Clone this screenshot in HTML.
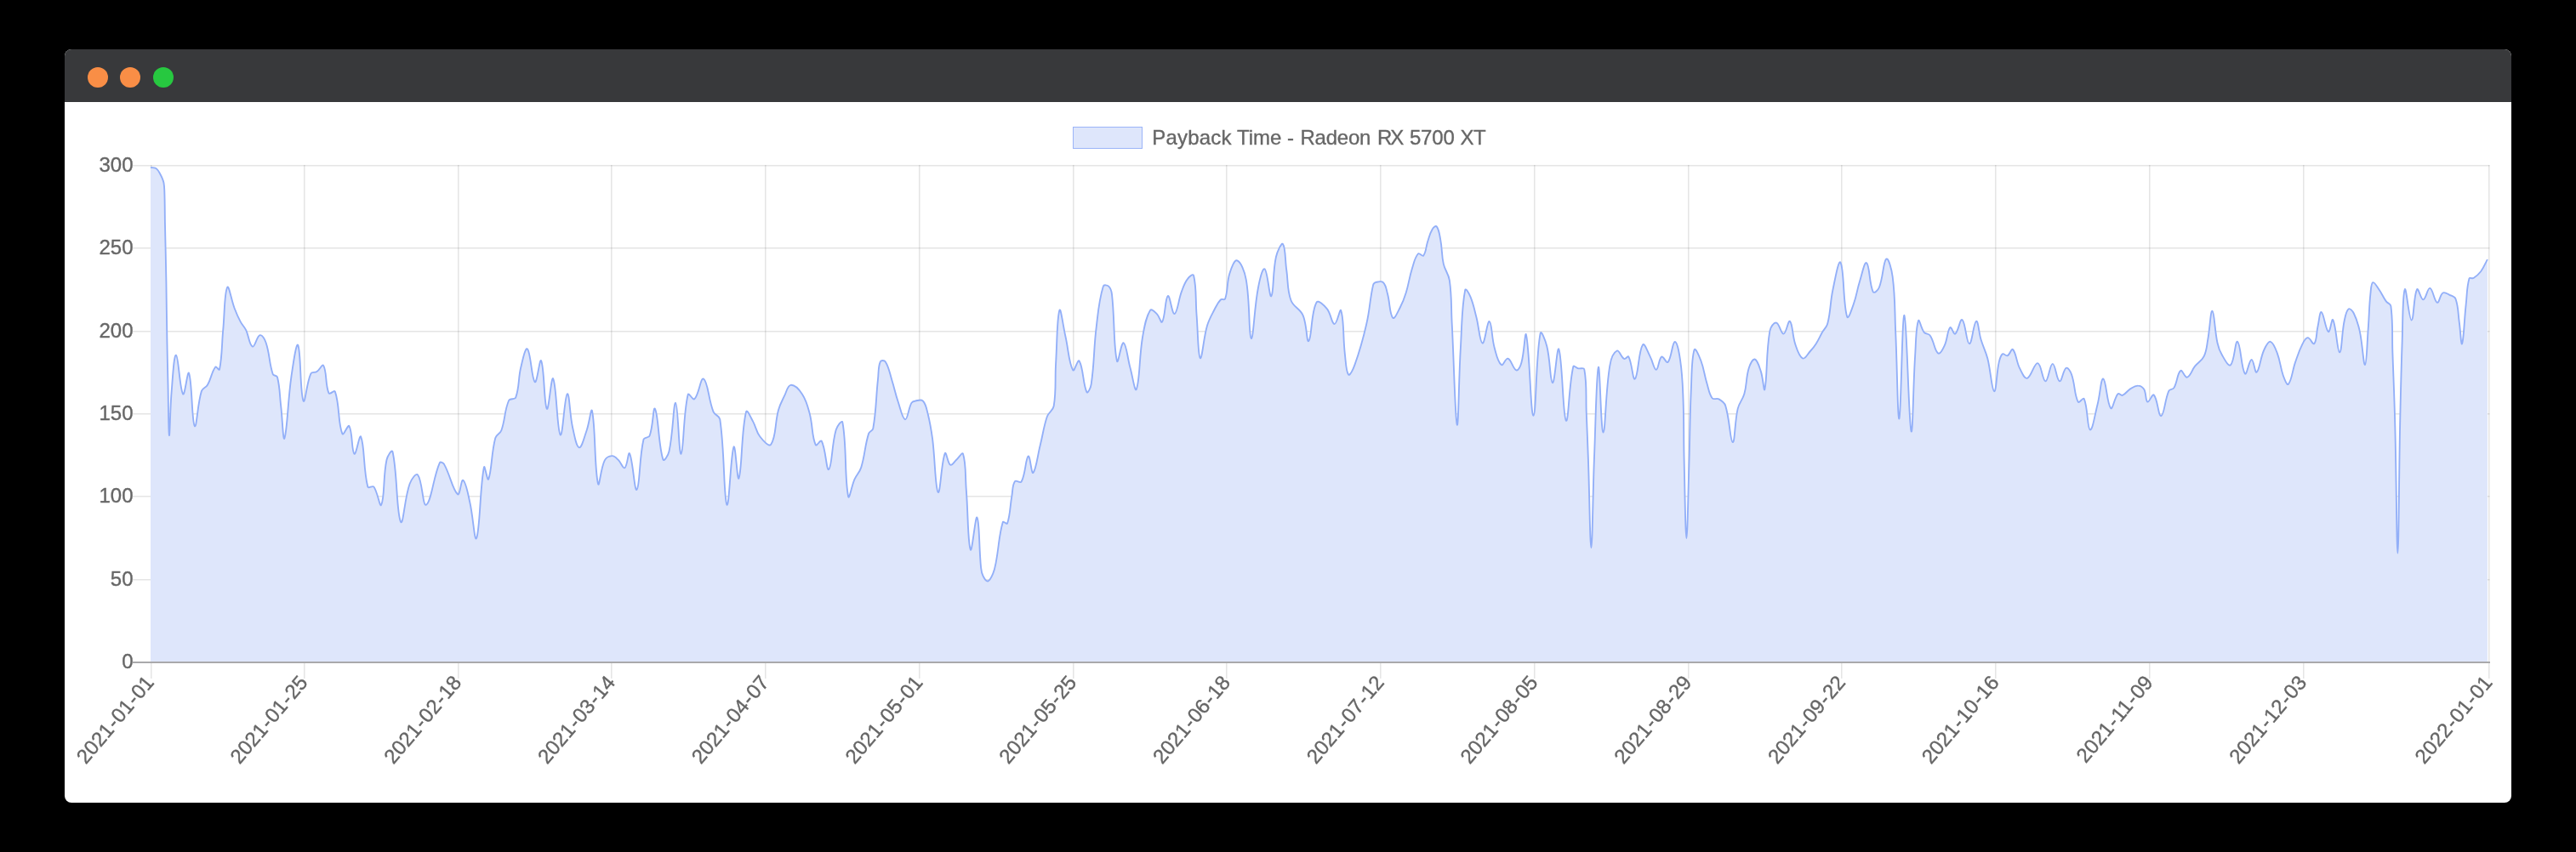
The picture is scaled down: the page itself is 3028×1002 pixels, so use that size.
<!DOCTYPE html>
<html><head><meta charset="utf-8"><title>chart</title>
<style>
html,body{margin:0;padding:0;background:#000;}
body{width:3028px;height:1002px;position:relative;overflow:hidden;font-family:"Liberation Sans",sans-serif;}
.win{position:absolute;left:76px;top:58px;width:2876px;height:886px;background:#fff;border-radius:8px;overflow:hidden;}
.bar{position:absolute;left:0;top:0;right:0;height:62px;background:#38393b;}
.dot{position:absolute;top:21px;width:24px;height:24px;border-radius:50%;}
svg text{font-family:"Liberation Sans",sans-serif;stroke:#666;stroke-width:0.35px;}
svg{will-change:transform;}
</style></head><body>
<div class="win"><div class="bar">
<div class="dot" style="left:27px;background:#f98e46"></div>
<div class="dot" style="left:65px;background:#f98e46"></div>
<div class="dot" style="left:104px;background:#27c840"></div>
</div></div>
<svg width="3028" height="1002" viewBox="0 0 3028 1002" style="position:absolute;left:0;top:0">
<rect x="156" y="194" width="2770.5" height="1" fill="rgba(0,0,0,0.10)"/>
<rect x="156" y="195" width="2770.5" height="1" fill="rgba(0,0,0,0.055)"/>
<rect x="156" y="291" width="2770.5" height="1" fill="rgba(0,0,0,0.10)"/>
<rect x="156" y="292" width="2770.5" height="1" fill="rgba(0,0,0,0.055)"/>
<rect x="156" y="389" width="2770.5" height="1" fill="rgba(0,0,0,0.10)"/>
<rect x="156" y="390" width="2770.5" height="1" fill="rgba(0,0,0,0.055)"/>
<rect x="156" y="486" width="2770.5" height="1" fill="rgba(0,0,0,0.10)"/>
<rect x="156" y="487" width="2770.5" height="1" fill="rgba(0,0,0,0.055)"/>
<rect x="156" y="583" width="2770.5" height="1" fill="rgba(0,0,0,0.10)"/>
<rect x="156" y="584" width="2770.5" height="1" fill="rgba(0,0,0,0.055)"/>
<rect x="156" y="681" width="2770.5" height="1" fill="rgba(0,0,0,0.10)"/>
<rect x="156" y="682" width="2770.5" height="1" fill="rgba(0,0,0,0.055)"/>
<rect x="177" y="194" width="1" height="604" fill="rgba(0,0,0,0.10)"/>
<rect x="178" y="194" width="1" height="604" fill="rgba(0,0,0,0.055)"/>
<rect x="357" y="194" width="1" height="604" fill="rgba(0,0,0,0.10)"/>
<rect x="358" y="194" width="1" height="604" fill="rgba(0,0,0,0.055)"/>
<rect x="538" y="194" width="1" height="604" fill="rgba(0,0,0,0.10)"/>
<rect x="539" y="194" width="1" height="604" fill="rgba(0,0,0,0.055)"/>
<rect x="718" y="194" width="1" height="604" fill="rgba(0,0,0,0.10)"/>
<rect x="719" y="194" width="1" height="604" fill="rgba(0,0,0,0.055)"/>
<rect x="899" y="194" width="1" height="604" fill="rgba(0,0,0,0.10)"/>
<rect x="900" y="194" width="1" height="604" fill="rgba(0,0,0,0.055)"/>
<rect x="1080" y="194" width="1" height="604" fill="rgba(0,0,0,0.10)"/>
<rect x="1081" y="194" width="1" height="604" fill="rgba(0,0,0,0.055)"/>
<rect x="1261" y="194" width="1" height="604" fill="rgba(0,0,0,0.10)"/>
<rect x="1262" y="194" width="1" height="604" fill="rgba(0,0,0,0.055)"/>
<rect x="1441" y="194" width="1" height="604" fill="rgba(0,0,0,0.10)"/>
<rect x="1442" y="194" width="1" height="604" fill="rgba(0,0,0,0.055)"/>
<rect x="1622" y="194" width="1" height="604" fill="rgba(0,0,0,0.10)"/>
<rect x="1623" y="194" width="1" height="604" fill="rgba(0,0,0,0.055)"/>
<rect x="1803" y="194" width="1" height="604" fill="rgba(0,0,0,0.10)"/>
<rect x="1804" y="194" width="1" height="604" fill="rgba(0,0,0,0.055)"/>
<rect x="1984" y="194" width="1" height="604" fill="rgba(0,0,0,0.10)"/>
<rect x="1985" y="194" width="1" height="604" fill="rgba(0,0,0,0.055)"/>
<rect x="2164" y="194" width="1" height="604" fill="rgba(0,0,0,0.10)"/>
<rect x="2165" y="194" width="1" height="604" fill="rgba(0,0,0,0.055)"/>
<rect x="2345" y="194" width="1" height="604" fill="rgba(0,0,0,0.10)"/>
<rect x="2346" y="194" width="1" height="604" fill="rgba(0,0,0,0.055)"/>
<rect x="2526" y="194" width="1" height="604" fill="rgba(0,0,0,0.10)"/>
<rect x="2527" y="194" width="1" height="604" fill="rgba(0,0,0,0.055)"/>
<rect x="2707" y="194" width="1" height="604" fill="rgba(0,0,0,0.10)"/>
<rect x="2708" y="194" width="1" height="604" fill="rgba(0,0,0,0.055)"/>
<rect x="2925" y="194" width="1" height="604" fill="rgba(0,0,0,0.10)"/>
<rect x="2926" y="194" width="1" height="604" fill="rgba(0,0,0,0.055)"/>
<path d="M177.0,196.8C179.2,197.2 180.5,196.9 182.6,197.7C183.9,198.2 184.5,198.9 185.4,200.0C186.8,201.7 187.2,202.8 188.3,204.7C189.3,206.5 189.8,207.5 190.6,209.4C191.5,211.6 192.1,212.8 192.5,215.1C193.1,218.6 193.2,220.4 193.3,224.0C193.8,238.6 193.7,245.9 193.9,260.4C194.5,288.6 194.9,302.7 195.4,330.8C195.8,359.0 195.9,373.1 196.4,401.3C196.8,421.9 197.0,432.2 197.5,452.8C198.0,476.5 198.0,510.5 198.9,512.0C199.7,513.3 199.9,480.6 201.7,459.9C203.1,442.9 204.4,416.9 207.0,417.6C209.8,418.3 211.2,457.9 215.1,463.4C217.2,466.4 220.5,434.4 222.1,438.7C226.0,449.4 225.3,496.0 228.8,501.1C231.2,504.4 232.0,475.5 236.9,459.9C238.1,456.2 242.0,456.2 243.9,452.8C248.5,445.0 248.6,437.6 253.1,431.7C254.2,430.2 257.6,436.4 258.0,434.5C261.3,418.6 260.5,406.1 262.3,387.2C264.1,367.5 263.7,344.3 267.2,337.9C269.0,334.5 271.9,352.8 275.6,362.5C278.1,369.0 279.4,372.3 282.7,378.4C284.8,382.4 287.0,383.8 289.0,387.9C292.7,395.5 293.0,406.2 296.8,407.6C299.6,408.7 301.8,395.3 305.6,394.2C308.2,393.5 311.2,398.8 312.6,403.0C317.3,417.1 316.1,426.1 320.7,440.0C321.5,442.3 325.4,441.2 326.0,443.5C329.2,456.2 328.6,463.9 330.2,477.5C332.0,492.7 332.8,520.3 334.4,515.5C337.7,506.2 338.3,471.4 342.5,442.3C344.7,427.6 348.3,401.8 350.3,406.0C353.9,413.5 352.6,462.6 356.6,471.5C358.7,476.0 360.2,450.7 365.4,439.4C366.6,436.9 370.0,438.6 372.5,437.0C375.9,434.8 378.9,427.5 380.2,429.9C384.5,437.6 382.1,452.4 386.5,462.3C387.6,464.6 393.1,458.1 393.9,460.6C399.5,477.2 397.1,497.2 402.4,510.2C403.7,513.4 409.0,498.5 410.5,501.1C414.6,508.0 413.1,530.7 416.5,533.8C418.6,535.8 422.5,509.6 424.2,513.7C428.9,525.1 426.9,551.5 432.3,572.5C433.0,575.0 437.9,570.5 439.4,572.5C444.2,579.0 446.3,597.5 448.2,593.7C452.4,584.8 450.1,561.2 454.5,540.8C455.5,536.3 460.7,527.7 461.5,531.3C467.3,556.9 465.9,604.0 471.1,613.7C473.9,619.1 475.5,585.9 481.6,569.0C483.5,563.8 489.0,555.7 491.1,558.5C496.7,565.6 496.7,596.0 501.0,593.7C507.0,590.4 509.2,561.5 516.8,544.4C517.7,542.5 521.0,544.3 522.1,546.1C529.5,559.1 531.9,576.2 538.0,581.3C540.7,583.7 542.0,563.3 544.3,564.8C547.8,567.1 549.9,580.1 552.3,590.7C556.2,607.4 557.8,638.5 560.1,633.0C564.4,622.1 564.1,573.0 568.9,549.5C569.7,545.3 572.9,566.8 574.2,563.6C578.3,553.0 577.3,533.7 582.3,515.0C583.4,510.7 587.8,510.4 589.3,506.2C594.1,492.8 592.7,483.4 598.1,471.0C599.4,468.0 605.1,470.5 606.2,467.5C610.7,455.0 608.9,446.1 612.2,432.3C614.3,423.3 617.5,407.9 619.9,410.4C624.1,414.7 624.8,445.8 628.7,449.2C631.3,451.3 634.4,420.2 636.1,424.2C640.0,432.9 639.4,475.7 642.8,480.8C645.0,484.1 648.0,441.0 650.2,445.3C654.3,453.2 654.8,507.3 658.7,511.5C661.5,514.5 663.6,465.2 666.8,463.2C669.4,461.7 669.6,487.1 673.1,502.7C675.3,512.3 677.3,525.5 680.8,526.3C683.9,526.9 686.7,514.4 689.6,506.2C692.8,497.3 694.8,477.9 696.0,483.3C700.2,502.9 698.6,551.4 703.0,568.9C704.5,574.7 705.9,551.0 710.8,541.4C712.5,537.9 716.1,536.3 719.6,536.1C722.4,536.0 724.2,538.4 726.6,540.7C730.1,544.0 732.2,551.4 734.4,550.2C737.5,548.5 738.4,530.3 740.0,533.3C744.0,540.6 745.7,578.7 748.5,575.9C752.3,572.1 751.2,539.0 756.5,516.8C757.3,513.7 762.5,515.4 763.6,512.5C767.9,501.1 767.7,477.0 769.9,480.8C774.1,488.1 773.9,523.6 779.4,540.4C780.5,543.6 785.5,535.4 786.5,530.8C791.4,508.8 791.5,473.3 794.2,473.8C797.1,474.4 797.9,535.5 800.6,533.7C803.7,531.5 803.1,486.7 808.7,463.9C809.4,460.9 814.5,471.2 816.4,469.2C821.8,463.9 823.5,443.3 827.0,445.6C832.4,449.3 832.6,469.6 838.6,484.4C840.3,488.6 845.7,488.6 846.3,493.2C852.0,532.3 850.6,585.8 854.4,593.5C857.1,598.8 858.9,533.6 862.5,525.6C864.5,521.2 866.7,567.9 868.5,562.5C872.4,551.4 871.3,507.1 877.0,484.4C878.0,480.4 882.4,490.8 885.1,495.6C888.8,502.4 888.6,507.3 893.2,513.2C897.0,518.2 903.8,526.2 906.2,522.7C912.5,513.8 910.6,498.2 915.0,482.3C916.9,475.3 918.9,472.1 922.0,465.7C924.7,460.4 925.6,453.3 929.5,452.8C934.0,452.3 939.2,457.9 942.9,463.4C948.1,471.3 949.2,476.8 951.7,486.3C955.5,500.8 954.1,512.6 958.7,523.2C959.8,525.6 964.6,516.4 965.8,518.7C970.8,528.0 971.4,554.3 974.2,552.1C978.1,549.1 977.5,523.3 982.7,505.6C984.0,501.2 989.7,493.1 990.4,496.8C995.5,524.4 992.6,562.3 997.1,583.8C998.2,589.1 1001.0,571.5 1004.5,563.7C1007.1,557.9 1010.4,555.7 1012.3,549.6C1017.0,534.2 1016.3,525.2 1021.1,509.9C1022.0,506.9 1025.8,507.0 1026.3,503.9C1030.2,481.3 1029.5,469.0 1032.0,445.8C1032.9,437.6 1032.1,431.7 1034.8,425.4C1035.6,423.5 1039.7,423.6 1040.8,425.4C1045.2,432.4 1045.7,438.6 1048.5,447.5C1051.6,457.3 1052.3,462.5 1055.6,472.2C1058.5,480.8 1060.7,492.9 1064.0,493.3C1067.0,493.6 1067.6,480.9 1071.4,473.9C1072.4,472.2 1074.0,471.8 1076.0,471.5C1079.4,470.9 1082.8,469.3 1084.8,471.5C1088.7,475.6 1089.1,480.8 1090.8,487.3C1093.6,498.7 1094.5,504.6 1096.1,516.2C1099.3,541.2 1099.3,575.0 1102.7,578.9C1105.3,581.7 1106.5,542.8 1110.8,533.1C1112.3,530.0 1113.9,544.9 1117.2,546.8C1119.2,548.0 1121.5,543.3 1124.2,540.8C1127.4,538.1 1131.1,531.0 1132.0,533.8C1135.7,545.1 1134.5,559.1 1135.8,576.1C1138.0,604.2 1137.5,638.1 1140.8,646.5C1142.6,651.1 1146.6,605.1 1148.5,608.5C1151.5,613.6 1150.7,644.0 1153.1,667.6C1153.5,671.6 1153.8,674.0 1155.6,677.5C1157.0,680.3 1159.2,683.9 1161.2,683.5C1163.8,682.8 1165.5,678.5 1167.2,674.6C1169.3,669.6 1169.7,666.7 1170.7,661.3C1174.3,642.5 1174.0,630.5 1178.8,614.1C1179.4,612.2 1183.5,617.3 1184.1,615.5C1187.7,604.9 1187.1,596.0 1189.4,583.1C1190.6,576.3 1189.8,570.8 1192.9,566.2C1194.3,564.1 1199.4,568.9 1200.6,566.5C1205.7,557.1 1205.4,539.2 1208.7,536.6C1210.9,535.0 1212.3,558.0 1214.4,556.0C1217.9,552.6 1219.5,536.4 1222.8,523.2C1226.2,509.9 1226.5,502.7 1230.9,489.8C1232.8,484.3 1237.7,483.1 1238.7,477.5C1241.8,458.0 1239.9,447.3 1241.1,427.2C1242.6,402.2 1242.4,373.3 1245.4,364.9C1246.9,360.6 1249.6,383.2 1252.4,395.5C1256.0,411.4 1256.3,426.6 1261.2,435.3C1262.8,438.1 1266.9,421.7 1268.6,424.4C1273.4,432.0 1273.0,452.4 1277.4,461.0C1278.6,463.4 1282.1,456.0 1282.7,451.8C1286.6,425.5 1285.4,411.6 1288.7,384.9C1291.0,365.5 1291.6,353.8 1296.8,336.7C1297.4,334.5 1301.5,335.2 1303.1,336.7C1305.6,339.0 1306.5,342.1 1307.0,346.2C1310.5,377.3 1308.7,407.0 1313.0,424.7C1314.2,429.8 1318.0,401.9 1320.7,403.2C1324.2,405.0 1325.2,420.8 1328.5,432.5C1331.3,442.6 1334.1,462.2 1335.8,457.8C1340.0,447.4 1338.9,420.2 1343.2,395.5C1345.4,383.0 1346.9,373.1 1352.0,364.9C1353.5,362.6 1357.3,366.7 1359.8,369.1C1363.0,372.2 1364.7,380.8 1366.1,378.6C1369.9,372.4 1369.5,350.2 1372.8,348.0C1375.2,346.4 1377.7,370.0 1380.6,369.1C1384.1,367.9 1385.1,353.0 1389.0,342.7C1391.3,336.6 1392.3,332.9 1396.1,327.9C1397.9,325.4 1402.5,321.5 1403.1,324.0C1406.7,338.7 1405.1,352.1 1406.6,370.8C1408.2,391.0 1408.1,418.4 1410.8,421.2C1413.0,423.3 1414.6,398.0 1418.9,383.2C1421.3,375.1 1423.8,371.3 1427.7,363.8C1430.2,359.1 1431.3,356.0 1434.8,352.5C1436.2,351.1 1439.4,353.3 1440.1,351.5C1443.7,341.0 1441.8,333.0 1445.4,321.5C1447.4,315.0 1450.9,305.2 1454.2,306.4C1458.7,308.1 1463.0,319.0 1464.7,328.6C1469.6,355.7 1467.7,395.7 1470.7,398.0C1473.3,399.9 1474.3,362.4 1478.8,339.2C1480.6,329.7 1483.9,314.7 1486.5,316.3C1490.1,318.4 1492.1,350.6 1494.3,348.3C1497.4,345.0 1495.9,320.1 1499.9,302.2C1501.4,295.6 1506.3,284.8 1508.0,287.0C1511.2,291.1 1510.5,305.6 1512.3,318.0C1514.3,332.1 1512.8,340.3 1517.5,353.2C1520.5,361.4 1528.1,362.8 1531.6,370.8C1536.4,381.9 1535.8,403.6 1538.3,401.1C1542.1,397.5 1540.9,367.3 1547.5,355.7C1549.5,352.1 1556.3,358.9 1559.8,363.1C1564.7,369.0 1565.1,380.6 1568.6,381.1C1571.7,381.5 1575.1,361.6 1576.3,365.2C1580.0,375.8 1578.5,396.1 1580.9,416.6C1582.0,426.3 1582.2,437.4 1585.1,440.6C1586.8,442.3 1590.7,434.1 1592.5,428.9C1599.2,410.2 1601.9,400.3 1606.3,380.8C1610.5,362.8 1610.0,352.8 1614.1,335.1C1614.5,333.3 1615.9,332.3 1617.6,331.9C1620.7,331.2 1624.1,330.2 1626.1,332.3C1629.4,335.7 1629.5,340.1 1631.0,345.6C1634.0,356.8 1633.4,369.6 1637.3,373.8C1639.3,376.0 1643.0,366.8 1645.8,361.5C1649.2,354.8 1650.6,351.1 1652.8,343.9C1656.2,332.8 1656.4,326.8 1659.9,315.7C1662.1,308.6 1663.0,302.9 1666.9,298.5C1668.3,296.9 1672.0,302.2 1673.2,300.6C1676.5,296.4 1676.0,290.6 1678.2,284.0C1680.1,278.3 1680.5,274.9 1683.5,269.9C1684.7,267.8 1687.6,265.0 1688.7,266.4C1691.6,270.0 1692.1,275.8 1693.3,282.3C1695.4,293.4 1694.4,299.4 1696.8,310.4C1698.6,318.4 1702.7,321.7 1703.9,329.8C1706.7,349.9 1705.6,360.4 1706.7,380.8C1709.2,428.3 1710.4,493.1 1712.7,499.5C1714.4,504.4 1714.7,445.2 1716.9,409.0C1718.5,381.8 1718.1,361.9 1722.2,341.1C1722.8,337.9 1727.0,345.4 1728.5,349.2C1732.3,358.5 1733.0,363.9 1735.6,373.8C1738.6,385.7 1739.4,402.8 1742.6,403.7C1745.4,404.5 1748.1,377.1 1750.7,378.0C1753.7,379.2 1753.3,396.9 1756.7,409.0C1759.0,417.3 1760.5,425.7 1764.8,429.1C1766.9,430.8 1769.8,420.7 1772.5,421.7C1776.8,423.2 1778.5,434.2 1782.4,435.4C1784.8,436.2 1787.3,430.7 1788.4,426.6C1791.9,414.0 1792.6,387.4 1794.0,393.9C1798.2,412.4 1799.2,489.3 1802.5,488.9C1805.8,488.6 1805.2,419.9 1810.6,392.1C1811.5,387.2 1816.7,400.7 1818.3,407.3C1822.5,424.0 1822.1,449.5 1825.0,450.2C1827.7,450.9 1830.3,405.0 1832.4,410.8C1836.7,422.8 1837.0,489.9 1840.8,494.6C1843.8,498.1 1844.0,453.5 1849.3,431.2C1849.8,429.0 1852.8,432.7 1855.3,433.3C1858.0,434.0 1861.9,431.8 1862.3,434.4C1865.7,453.1 1863.9,465.6 1864.8,486.5C1865.7,507.9 1866.1,518.6 1866.9,540.0C1868.4,581.7 1869.0,644.2 1870.4,644.2C1871.8,644.2 1872.3,581.7 1873.9,540.0C1875.7,496.8 1876.4,439.2 1878.9,431.9C1880.6,426.7 1881.9,509.0 1884.5,508.7C1887.2,508.3 1887.1,461.0 1892.3,430.1C1893.5,422.5 1896.6,414.5 1900.7,412.5C1903.4,411.3 1905.4,420.1 1909.2,422.0C1910.9,422.9 1913.5,417.9 1914.4,419.6C1918.6,427.3 1919.2,447.9 1921.8,445.6C1925.8,442.2 1925.9,412.9 1931.0,405.5C1933.1,402.5 1936.6,413.7 1939.8,419.6C1943.0,425.4 1944.1,434.7 1946.8,434.7C1949.5,434.7 1949.7,421.8 1953.2,419.6C1955.2,418.3 1958.8,427.9 1960.6,425.9C1965.0,420.8 1965.6,402.6 1968.7,402.0C1971.4,401.4 1973.7,414.4 1975.0,423.1C1977.7,441.2 1977.8,450.5 1978.5,468.9C1979.6,497.3 1978.9,511.6 1979.6,540.0C1980.5,577.2 1981.2,633.0 1982.4,633.0C1983.6,633.0 1984.4,577.2 1985.6,540.0C1986.5,508.5 1986.3,492.7 1987.7,461.3C1988.7,441.2 1988.1,422.6 1991.6,411.3C1992.7,407.8 1997.3,418.7 1999.4,424.3C2003.2,434.4 2003.2,440.3 2006.4,450.7C2008.6,457.9 2008.8,463.0 2012.7,468.3C2014.4,470.5 2017.9,467.9 2020.5,469.4C2024.1,471.4 2026.9,473.1 2028.2,477.1C2033.4,493.3 2033.7,519.3 2036.7,520.1C2039.4,520.7 2039.0,496.0 2042.7,480.6C2044.5,473.2 2048.4,470.4 2050.4,463.0C2053.6,451.4 2052.2,444.5 2055.7,433.1C2057.2,428.3 2060.2,421.9 2062.7,422.5C2065.9,423.3 2067.8,430.7 2069.8,436.6C2072.5,444.8 2073.4,462.3 2074.4,457.7C2077.6,443.3 2075.7,415.6 2080.4,389.1C2081.2,384.4 2085.2,379.0 2088.1,379.6C2091.7,380.4 2093.5,392.9 2096.5,392.6C2099.8,392.2 2101.9,376.0 2103.9,377.8C2107.4,380.9 2106.7,394.5 2110.3,404.9C2112.7,412.0 2114.8,419.5 2119.1,421.5C2121.9,422.8 2124.6,416.6 2127.9,413.0C2131.0,409.6 2132.5,407.8 2134.9,403.9C2138.1,398.9 2139.1,396.0 2142.0,390.8C2144.4,386.6 2147.1,385.0 2148.3,380.3C2152.1,365.3 2151.1,356.9 2154.3,341.5C2157.1,328.3 2161.1,304.5 2163.5,308.8C2167.9,316.9 2166.3,357.2 2171.2,372.5C2172.5,376.6 2176.7,363.8 2178.9,357.4C2182.6,347.1 2182.7,341.4 2186.0,331.0C2188.8,322.1 2191.6,307.2 2194.1,309.2C2197.9,312.1 2197.1,334.1 2201.8,343.3C2203.0,345.6 2207.6,341.2 2208.9,338.0C2213.8,325.7 2213.5,307.6 2217.3,304.6C2219.8,302.6 2223.6,316.9 2224.7,325.7C2228.0,351.4 2227.0,364.8 2228.2,390.8C2230.1,431.4 2230.6,495.9 2232.5,492.3C2234.7,487.9 2235.8,368.0 2238.5,370.8C2241.4,373.9 2243.5,495.3 2246.5,507.0C2248.5,514.6 2248.8,454.2 2251.1,419.0C2252.2,402.2 2251.9,385.4 2255.0,377.1C2256.1,374.1 2258.1,386.3 2261.7,390.8C2263.6,393.2 2267.1,391.9 2268.7,394.4C2273.7,401.7 2273.7,412.2 2278.2,415.5C2280.5,417.1 2283.7,410.8 2285.6,406.7C2289.4,398.7 2288.8,389.2 2292.3,385.2C2293.8,383.5 2296.4,393.9 2298.3,392.6C2302.0,390.2 2303.9,374.3 2306.4,376.1C2310.5,378.9 2311.4,403.9 2314.9,404.2C2318.1,404.6 2319.9,378.8 2323.0,377.8C2325.4,377.0 2326.0,391.0 2328.6,399.6C2331.3,408.5 2334.0,412.5 2336.3,421.5C2340.2,436.7 2341.2,459.2 2344.1,460.2C2346.6,461.1 2346.7,439.5 2349.7,426.1C2350.7,421.9 2351.4,418.2 2353.9,416.2C2355.4,415.1 2357.7,419.1 2359.6,418.3C2362.6,417.0 2364.3,409.3 2366.0,411.0C2370.1,415.2 2369.9,424.8 2374.1,433.2C2376.7,438.3 2379.5,445.8 2382.9,444.8C2387.9,443.4 2391.1,426.5 2395.2,427.2C2399.7,427.9 2400.8,448.2 2404.4,448.3C2407.8,448.4 2409.5,427.9 2412.8,427.9C2416.1,427.9 2417.4,447.2 2420.9,448.3C2423.7,449.2 2425.1,434.9 2428.7,432.8C2430.7,431.7 2433.7,436.6 2435.0,440.2C2439.4,452.5 2438.0,463.3 2442.7,472.6C2443.9,474.8 2448.8,466.8 2449.8,469.1C2454.4,479.9 2453.4,504.0 2456.8,505.4C2459.7,506.5 2462.5,487.5 2465.6,475.4C2468.7,463.6 2469.5,444.6 2472.3,445.5C2475.7,446.5 2476.6,475.4 2481.1,480.0C2483.5,482.4 2485.3,467.8 2489.6,463.1C2490.8,461.7 2493.0,465.6 2494.9,464.9C2498.9,463.2 2500.2,459.7 2504.4,457.1C2507.6,455.1 2509.8,453.4 2513.2,453.6C2516.1,453.7 2518.6,455.2 2520.2,457.8C2523.1,462.8 2521.7,471.0 2524.4,472.6C2526.4,473.7 2530.0,462.5 2531.8,464.5C2536.3,469.2 2537.1,490.1 2540.3,489.2C2544.1,488.1 2544.5,470.4 2549.4,459.6C2550.5,457.2 2554.1,458.4 2555.4,456.1C2559.6,448.9 2559.1,439.3 2563.2,436.0C2565.3,434.3 2568.2,444.6 2570.9,443.7C2574.9,442.5 2576.1,435.7 2580.1,430.7C2584.0,425.8 2588.0,424.6 2590.6,419.1C2594.0,412.2 2593.8,407.5 2595.2,399.7C2597.7,386.1 2598.4,364.9 2600.5,365.6C2602.9,366.3 2603.2,388.4 2606.5,403.2C2607.8,409.1 2608.7,412.2 2611.8,417.3C2614.9,422.7 2619.4,431.5 2622.0,429.3C2626.7,425.3 2627.2,400.1 2630.1,401.8C2634.0,404.2 2634.4,433.8 2638.9,439.5C2641.0,442.2 2643.7,423.3 2646.6,423.0C2649.2,422.6 2650.5,439.4 2652.6,437.7C2656.2,435.0 2656.7,421.8 2661.1,412.0C2663.1,407.4 2666.0,401.2 2668.8,401.8C2672.3,402.6 2674.7,409.6 2676.9,415.6C2680.7,425.7 2680.3,431.8 2683.9,442.0C2685.5,446.3 2688.2,453.7 2689.9,451.8C2693.9,447.4 2694.5,436.3 2698.0,426.1C2701.0,417.6 2702.2,413.0 2706.2,405.1C2708.0,401.5 2709.9,397.4 2712.7,397.2C2715.5,397.0 2718.7,406.0 2720.3,404.2C2723.4,400.7 2722.7,392.0 2724.5,383.9C2726.1,377.1 2726.7,366.0 2728.7,367.0C2731.6,368.5 2733.6,387.9 2736.9,390.1C2739.0,391.5 2740.8,373.4 2742.3,376.1C2746.1,383.1 2747.4,413.9 2750.1,414.4C2752.7,414.8 2752.6,392.5 2755.5,378.3C2756.8,372.2 2757.6,366.0 2760.6,363.4C2762.1,362.1 2765.4,365.7 2766.8,368.5C2770.7,376.2 2771.9,380.9 2773.8,389.6C2777.2,405.1 2778.1,429.6 2780.0,429.0C2782.0,428.4 2782.4,403.7 2783.7,386.8C2785.0,369.9 2784.7,361.3 2786.5,344.5C2787.0,339.5 2787.2,333.0 2789.3,332.1C2791.1,331.3 2793.9,336.8 2796.3,340.3C2800.1,345.7 2801.0,349.1 2804.8,354.4C2806.6,356.9 2810.0,356.9 2810.4,360.0C2813.1,381.2 2811.6,393.0 2812.4,414.9C2813.6,449.4 2814.5,466.6 2815.3,501.0C2816.9,560.8 2817.2,650.6 2818.4,650.6C2819.6,650.6 2819.9,560.8 2821.1,501.0C2822.0,461.0 2822.3,440.9 2823.7,400.8C2824.5,376.6 2824.0,346.3 2826.8,340.3C2828.4,336.6 2831.8,376.6 2834.6,376.6C2837.5,376.6 2837.1,347.3 2841.1,340.3C2842.7,337.6 2845.6,352.7 2848.5,352.4C2851.6,352.1 2853.4,338.3 2856.3,338.9C2859.9,339.6 2861.2,354.4 2864.8,355.8C2867.3,356.7 2867.9,346.7 2871.5,344.5C2873.8,343.1 2876.5,345.4 2879.4,346.8C2882.5,348.2 2885.4,348.5 2886.5,351.5C2889.9,361.2 2889.2,367.6 2890.7,378.3C2892.2,388.7 2892.9,407.1 2894.1,404.2C2896.1,399.2 2896.6,376.8 2898.6,358.6C2900.0,346.2 2899.4,338.5 2902.5,327.6C2903.0,325.8 2905.9,328.1 2907.6,327.0C2911.4,324.7 2913.3,322.8 2916.1,319.2C2919.9,314.0 2920.8,310.7 2923.9,305.1L2923.9,779.0 L177.0,779.0 Z" fill="#dee6fb" stroke="none"/>
<path d="M177.0,196.8C179.2,197.2 180.5,196.9 182.6,197.7C183.9,198.2 184.5,198.9 185.4,200.0C186.8,201.7 187.2,202.8 188.3,204.7C189.3,206.5 189.8,207.5 190.6,209.4C191.5,211.6 192.1,212.8 192.5,215.1C193.1,218.6 193.2,220.4 193.3,224.0C193.8,238.6 193.7,245.9 193.9,260.4C194.5,288.6 194.9,302.7 195.4,330.8C195.8,359.0 195.9,373.1 196.4,401.3C196.8,421.9 197.0,432.2 197.5,452.8C198.0,476.5 198.0,510.5 198.9,512.0C199.7,513.3 199.9,480.6 201.7,459.9C203.1,442.9 204.4,416.9 207.0,417.6C209.8,418.3 211.2,457.9 215.1,463.4C217.2,466.4 220.5,434.4 222.1,438.7C226.0,449.4 225.3,496.0 228.8,501.1C231.2,504.4 232.0,475.5 236.9,459.9C238.1,456.2 242.0,456.2 243.9,452.8C248.5,445.0 248.6,437.6 253.1,431.7C254.2,430.2 257.6,436.4 258.0,434.5C261.3,418.6 260.5,406.1 262.3,387.2C264.1,367.5 263.7,344.3 267.2,337.9C269.0,334.5 271.9,352.8 275.6,362.5C278.1,369.0 279.4,372.3 282.7,378.4C284.8,382.4 287.0,383.8 289.0,387.9C292.7,395.5 293.0,406.2 296.8,407.6C299.6,408.7 301.8,395.3 305.6,394.2C308.2,393.5 311.2,398.8 312.6,403.0C317.3,417.1 316.1,426.1 320.7,440.0C321.5,442.3 325.4,441.2 326.0,443.5C329.2,456.2 328.6,463.9 330.2,477.5C332.0,492.7 332.8,520.3 334.4,515.5C337.7,506.2 338.3,471.4 342.5,442.3C344.7,427.6 348.3,401.8 350.3,406.0C353.9,413.5 352.6,462.6 356.6,471.5C358.7,476.0 360.2,450.7 365.4,439.4C366.6,436.9 370.0,438.6 372.5,437.0C375.9,434.8 378.9,427.5 380.2,429.9C384.5,437.6 382.1,452.4 386.5,462.3C387.6,464.6 393.1,458.1 393.9,460.6C399.5,477.2 397.1,497.2 402.4,510.2C403.7,513.4 409.0,498.5 410.5,501.1C414.6,508.0 413.1,530.7 416.5,533.8C418.6,535.8 422.5,509.6 424.2,513.7C428.9,525.1 426.9,551.5 432.3,572.5C433.0,575.0 437.9,570.5 439.4,572.5C444.2,579.0 446.3,597.5 448.2,593.7C452.4,584.8 450.1,561.2 454.5,540.8C455.5,536.3 460.7,527.7 461.5,531.3C467.3,556.9 465.9,604.0 471.1,613.7C473.9,619.1 475.5,585.9 481.6,569.0C483.5,563.8 489.0,555.7 491.1,558.5C496.7,565.6 496.7,596.0 501.0,593.7C507.0,590.4 509.2,561.5 516.8,544.4C517.7,542.5 521.0,544.3 522.1,546.1C529.5,559.1 531.9,576.2 538.0,581.3C540.7,583.7 542.0,563.3 544.3,564.8C547.8,567.1 549.9,580.1 552.3,590.7C556.2,607.4 557.8,638.5 560.1,633.0C564.4,622.1 564.1,573.0 568.9,549.5C569.7,545.3 572.9,566.8 574.2,563.6C578.3,553.0 577.3,533.7 582.3,515.0C583.4,510.7 587.8,510.4 589.3,506.2C594.1,492.8 592.7,483.4 598.1,471.0C599.4,468.0 605.1,470.5 606.2,467.5C610.7,455.0 608.9,446.1 612.2,432.3C614.3,423.3 617.5,407.9 619.9,410.4C624.1,414.7 624.8,445.8 628.7,449.2C631.3,451.3 634.4,420.2 636.1,424.2C640.0,432.9 639.4,475.7 642.8,480.8C645.0,484.1 648.0,441.0 650.2,445.3C654.3,453.2 654.8,507.3 658.7,511.5C661.5,514.5 663.6,465.2 666.8,463.2C669.4,461.7 669.6,487.1 673.1,502.7C675.3,512.3 677.3,525.5 680.8,526.3C683.9,526.9 686.7,514.4 689.6,506.2C692.8,497.3 694.8,477.9 696.0,483.3C700.2,502.9 698.6,551.4 703.0,568.9C704.5,574.7 705.9,551.0 710.8,541.4C712.5,537.9 716.1,536.3 719.6,536.1C722.4,536.0 724.2,538.4 726.6,540.7C730.1,544.0 732.2,551.4 734.4,550.2C737.5,548.5 738.4,530.3 740.0,533.3C744.0,540.6 745.7,578.7 748.5,575.9C752.3,572.1 751.2,539.0 756.5,516.8C757.3,513.7 762.5,515.4 763.6,512.5C767.9,501.1 767.7,477.0 769.9,480.8C774.1,488.1 773.9,523.6 779.4,540.4C780.5,543.6 785.5,535.4 786.5,530.8C791.4,508.8 791.5,473.3 794.2,473.8C797.1,474.4 797.9,535.5 800.6,533.7C803.7,531.5 803.1,486.7 808.7,463.9C809.4,460.9 814.5,471.2 816.4,469.2C821.8,463.9 823.5,443.3 827.0,445.6C832.4,449.3 832.6,469.6 838.6,484.4C840.3,488.6 845.7,488.6 846.3,493.2C852.0,532.3 850.6,585.8 854.4,593.5C857.1,598.8 858.9,533.6 862.5,525.6C864.5,521.2 866.7,567.9 868.5,562.5C872.4,551.4 871.3,507.1 877.0,484.4C878.0,480.4 882.4,490.8 885.1,495.6C888.8,502.4 888.6,507.3 893.2,513.2C897.0,518.2 903.8,526.2 906.2,522.7C912.5,513.8 910.6,498.2 915.0,482.3C916.9,475.3 918.9,472.1 922.0,465.7C924.7,460.4 925.6,453.3 929.5,452.8C934.0,452.3 939.2,457.9 942.9,463.4C948.1,471.3 949.2,476.8 951.7,486.3C955.5,500.8 954.1,512.6 958.7,523.2C959.8,525.6 964.6,516.4 965.8,518.7C970.8,528.0 971.4,554.3 974.2,552.1C978.1,549.1 977.5,523.3 982.7,505.6C984.0,501.2 989.7,493.1 990.4,496.8C995.5,524.4 992.6,562.3 997.1,583.8C998.2,589.1 1001.0,571.5 1004.5,563.7C1007.1,557.9 1010.4,555.7 1012.3,549.6C1017.0,534.2 1016.3,525.2 1021.1,509.9C1022.0,506.9 1025.8,507.0 1026.3,503.9C1030.2,481.3 1029.5,469.0 1032.0,445.8C1032.9,437.6 1032.1,431.7 1034.8,425.4C1035.6,423.5 1039.7,423.6 1040.8,425.4C1045.2,432.4 1045.7,438.6 1048.5,447.5C1051.6,457.3 1052.3,462.5 1055.6,472.2C1058.5,480.8 1060.7,492.9 1064.0,493.3C1067.0,493.6 1067.6,480.9 1071.4,473.9C1072.4,472.2 1074.0,471.8 1076.0,471.5C1079.4,470.9 1082.8,469.3 1084.8,471.5C1088.7,475.6 1089.1,480.8 1090.8,487.3C1093.6,498.7 1094.5,504.6 1096.1,516.2C1099.3,541.2 1099.3,575.0 1102.7,578.9C1105.3,581.7 1106.5,542.8 1110.8,533.1C1112.3,530.0 1113.9,544.9 1117.2,546.8C1119.2,548.0 1121.5,543.3 1124.2,540.8C1127.4,538.1 1131.1,531.0 1132.0,533.8C1135.7,545.1 1134.5,559.1 1135.8,576.1C1138.0,604.2 1137.5,638.1 1140.8,646.5C1142.6,651.1 1146.6,605.1 1148.5,608.5C1151.5,613.6 1150.7,644.0 1153.1,667.6C1153.5,671.6 1153.8,674.0 1155.6,677.5C1157.0,680.3 1159.2,683.9 1161.2,683.5C1163.8,682.8 1165.5,678.5 1167.2,674.6C1169.3,669.6 1169.7,666.7 1170.7,661.3C1174.3,642.5 1174.0,630.5 1178.8,614.1C1179.4,612.2 1183.5,617.3 1184.1,615.5C1187.7,604.9 1187.1,596.0 1189.4,583.1C1190.6,576.3 1189.8,570.8 1192.9,566.2C1194.3,564.1 1199.4,568.9 1200.6,566.5C1205.7,557.1 1205.4,539.2 1208.7,536.6C1210.9,535.0 1212.3,558.0 1214.4,556.0C1217.9,552.6 1219.5,536.4 1222.8,523.2C1226.2,509.9 1226.5,502.7 1230.9,489.8C1232.8,484.3 1237.7,483.1 1238.7,477.5C1241.8,458.0 1239.9,447.3 1241.1,427.2C1242.6,402.2 1242.4,373.3 1245.4,364.9C1246.9,360.6 1249.6,383.2 1252.4,395.5C1256.0,411.4 1256.3,426.6 1261.2,435.3C1262.8,438.1 1266.9,421.7 1268.6,424.4C1273.4,432.0 1273.0,452.4 1277.4,461.0C1278.6,463.4 1282.1,456.0 1282.7,451.8C1286.6,425.5 1285.4,411.6 1288.7,384.9C1291.0,365.5 1291.6,353.8 1296.8,336.7C1297.4,334.5 1301.5,335.2 1303.1,336.7C1305.6,339.0 1306.5,342.1 1307.0,346.2C1310.5,377.3 1308.7,407.0 1313.0,424.7C1314.2,429.8 1318.0,401.9 1320.7,403.2C1324.2,405.0 1325.2,420.8 1328.5,432.5C1331.3,442.6 1334.1,462.2 1335.8,457.8C1340.0,447.4 1338.9,420.2 1343.2,395.5C1345.4,383.0 1346.9,373.1 1352.0,364.9C1353.5,362.6 1357.3,366.7 1359.8,369.1C1363.0,372.2 1364.7,380.8 1366.1,378.6C1369.9,372.4 1369.5,350.2 1372.8,348.0C1375.2,346.4 1377.7,370.0 1380.6,369.1C1384.1,367.9 1385.1,353.0 1389.0,342.7C1391.3,336.6 1392.3,332.9 1396.1,327.9C1397.9,325.4 1402.5,321.5 1403.1,324.0C1406.7,338.7 1405.1,352.1 1406.6,370.8C1408.2,391.0 1408.1,418.4 1410.8,421.2C1413.0,423.3 1414.6,398.0 1418.9,383.2C1421.3,375.1 1423.8,371.3 1427.7,363.8C1430.2,359.1 1431.3,356.0 1434.8,352.5C1436.2,351.1 1439.4,353.3 1440.1,351.5C1443.7,341.0 1441.8,333.0 1445.4,321.5C1447.4,315.0 1450.9,305.2 1454.2,306.4C1458.7,308.1 1463.0,319.0 1464.7,328.6C1469.6,355.7 1467.7,395.7 1470.7,398.0C1473.3,399.9 1474.3,362.4 1478.8,339.2C1480.6,329.7 1483.9,314.7 1486.5,316.3C1490.1,318.4 1492.1,350.6 1494.3,348.3C1497.4,345.0 1495.9,320.1 1499.9,302.2C1501.4,295.6 1506.3,284.8 1508.0,287.0C1511.2,291.1 1510.5,305.6 1512.3,318.0C1514.3,332.1 1512.8,340.3 1517.5,353.2C1520.5,361.4 1528.1,362.8 1531.6,370.8C1536.4,381.9 1535.8,403.6 1538.3,401.1C1542.1,397.5 1540.9,367.3 1547.5,355.7C1549.5,352.1 1556.3,358.9 1559.8,363.1C1564.7,369.0 1565.1,380.6 1568.6,381.1C1571.7,381.5 1575.1,361.6 1576.3,365.2C1580.0,375.8 1578.5,396.1 1580.9,416.6C1582.0,426.3 1582.2,437.4 1585.1,440.6C1586.8,442.3 1590.7,434.1 1592.5,428.9C1599.2,410.2 1601.9,400.3 1606.3,380.8C1610.5,362.8 1610.0,352.8 1614.1,335.1C1614.5,333.3 1615.9,332.3 1617.6,331.9C1620.7,331.2 1624.1,330.2 1626.1,332.3C1629.4,335.7 1629.5,340.1 1631.0,345.6C1634.0,356.8 1633.4,369.6 1637.3,373.8C1639.3,376.0 1643.0,366.8 1645.8,361.5C1649.2,354.8 1650.6,351.1 1652.8,343.9C1656.2,332.8 1656.4,326.8 1659.9,315.7C1662.1,308.6 1663.0,302.9 1666.9,298.5C1668.3,296.9 1672.0,302.2 1673.2,300.6C1676.5,296.4 1676.0,290.6 1678.2,284.0C1680.1,278.3 1680.5,274.9 1683.5,269.9C1684.7,267.8 1687.6,265.0 1688.7,266.4C1691.6,270.0 1692.1,275.8 1693.3,282.3C1695.4,293.4 1694.4,299.4 1696.8,310.4C1698.6,318.4 1702.7,321.7 1703.9,329.8C1706.7,349.9 1705.6,360.4 1706.7,380.8C1709.2,428.3 1710.4,493.1 1712.7,499.5C1714.4,504.4 1714.7,445.2 1716.9,409.0C1718.5,381.8 1718.1,361.9 1722.2,341.1C1722.8,337.9 1727.0,345.4 1728.5,349.2C1732.3,358.5 1733.0,363.9 1735.6,373.8C1738.6,385.7 1739.4,402.8 1742.6,403.7C1745.4,404.5 1748.1,377.1 1750.7,378.0C1753.7,379.2 1753.3,396.9 1756.7,409.0C1759.0,417.3 1760.5,425.7 1764.8,429.1C1766.9,430.8 1769.8,420.7 1772.5,421.7C1776.8,423.2 1778.5,434.2 1782.4,435.4C1784.8,436.2 1787.3,430.7 1788.4,426.6C1791.9,414.0 1792.6,387.4 1794.0,393.9C1798.2,412.4 1799.2,489.3 1802.5,488.9C1805.8,488.6 1805.2,419.9 1810.6,392.1C1811.5,387.2 1816.7,400.7 1818.3,407.3C1822.5,424.0 1822.1,449.5 1825.0,450.2C1827.7,450.9 1830.3,405.0 1832.4,410.8C1836.7,422.8 1837.0,489.9 1840.8,494.6C1843.8,498.1 1844.0,453.5 1849.3,431.2C1849.8,429.0 1852.8,432.7 1855.3,433.3C1858.0,434.0 1861.9,431.8 1862.3,434.4C1865.7,453.1 1863.9,465.6 1864.8,486.5C1865.7,507.9 1866.1,518.6 1866.9,540.0C1868.4,581.7 1869.0,644.2 1870.4,644.2C1871.8,644.2 1872.3,581.7 1873.9,540.0C1875.7,496.8 1876.4,439.2 1878.9,431.9C1880.6,426.7 1881.9,509.0 1884.5,508.7C1887.2,508.3 1887.1,461.0 1892.3,430.1C1893.5,422.5 1896.6,414.5 1900.7,412.5C1903.4,411.3 1905.4,420.1 1909.2,422.0C1910.9,422.9 1913.5,417.9 1914.4,419.6C1918.6,427.3 1919.2,447.9 1921.8,445.6C1925.8,442.2 1925.9,412.9 1931.0,405.5C1933.1,402.5 1936.6,413.7 1939.8,419.6C1943.0,425.4 1944.1,434.7 1946.8,434.7C1949.5,434.7 1949.7,421.8 1953.2,419.6C1955.2,418.3 1958.8,427.9 1960.6,425.9C1965.0,420.8 1965.6,402.6 1968.7,402.0C1971.4,401.4 1973.7,414.4 1975.0,423.1C1977.7,441.2 1977.8,450.5 1978.5,468.9C1979.6,497.3 1978.9,511.6 1979.6,540.0C1980.5,577.2 1981.2,633.0 1982.4,633.0C1983.6,633.0 1984.4,577.2 1985.6,540.0C1986.5,508.5 1986.3,492.7 1987.7,461.3C1988.7,441.2 1988.1,422.6 1991.6,411.3C1992.7,407.8 1997.3,418.7 1999.4,424.3C2003.2,434.4 2003.2,440.3 2006.4,450.7C2008.6,457.9 2008.8,463.0 2012.7,468.3C2014.4,470.5 2017.9,467.9 2020.5,469.4C2024.1,471.4 2026.9,473.1 2028.2,477.1C2033.4,493.3 2033.7,519.3 2036.7,520.1C2039.4,520.7 2039.0,496.0 2042.7,480.6C2044.5,473.2 2048.4,470.4 2050.4,463.0C2053.6,451.4 2052.2,444.5 2055.7,433.1C2057.2,428.3 2060.2,421.9 2062.7,422.5C2065.9,423.3 2067.8,430.7 2069.8,436.6C2072.5,444.8 2073.4,462.3 2074.4,457.7C2077.6,443.3 2075.7,415.6 2080.4,389.1C2081.2,384.4 2085.2,379.0 2088.1,379.6C2091.7,380.4 2093.5,392.9 2096.5,392.6C2099.8,392.2 2101.9,376.0 2103.9,377.8C2107.4,380.9 2106.7,394.5 2110.3,404.9C2112.7,412.0 2114.8,419.5 2119.1,421.5C2121.9,422.8 2124.6,416.6 2127.9,413.0C2131.0,409.6 2132.5,407.8 2134.9,403.9C2138.1,398.9 2139.1,396.0 2142.0,390.8C2144.4,386.6 2147.1,385.0 2148.3,380.3C2152.1,365.3 2151.1,356.9 2154.3,341.5C2157.1,328.3 2161.1,304.5 2163.5,308.8C2167.9,316.9 2166.3,357.2 2171.2,372.5C2172.5,376.6 2176.7,363.8 2178.9,357.4C2182.6,347.1 2182.7,341.4 2186.0,331.0C2188.8,322.1 2191.6,307.2 2194.1,309.2C2197.9,312.1 2197.1,334.1 2201.8,343.3C2203.0,345.6 2207.6,341.2 2208.9,338.0C2213.8,325.7 2213.5,307.6 2217.3,304.6C2219.8,302.6 2223.6,316.9 2224.7,325.7C2228.0,351.4 2227.0,364.8 2228.2,390.8C2230.1,431.4 2230.6,495.9 2232.5,492.3C2234.7,487.9 2235.8,368.0 2238.5,370.8C2241.4,373.9 2243.5,495.3 2246.5,507.0C2248.5,514.6 2248.8,454.2 2251.1,419.0C2252.2,402.2 2251.9,385.4 2255.0,377.1C2256.1,374.1 2258.1,386.3 2261.7,390.8C2263.6,393.2 2267.1,391.9 2268.7,394.4C2273.7,401.7 2273.7,412.2 2278.2,415.5C2280.5,417.1 2283.7,410.8 2285.6,406.7C2289.4,398.7 2288.8,389.2 2292.3,385.2C2293.8,383.5 2296.4,393.9 2298.3,392.6C2302.0,390.2 2303.9,374.3 2306.4,376.1C2310.5,378.9 2311.4,403.9 2314.9,404.2C2318.1,404.6 2319.9,378.8 2323.0,377.8C2325.4,377.0 2326.0,391.0 2328.6,399.6C2331.3,408.5 2334.0,412.5 2336.3,421.5C2340.2,436.7 2341.2,459.2 2344.1,460.2C2346.6,461.1 2346.7,439.5 2349.7,426.1C2350.7,421.9 2351.4,418.2 2353.9,416.2C2355.4,415.1 2357.7,419.1 2359.6,418.3C2362.6,417.0 2364.3,409.3 2366.0,411.0C2370.1,415.2 2369.9,424.8 2374.1,433.2C2376.7,438.3 2379.5,445.8 2382.9,444.8C2387.9,443.4 2391.1,426.5 2395.2,427.2C2399.7,427.9 2400.8,448.2 2404.4,448.3C2407.8,448.4 2409.5,427.9 2412.8,427.9C2416.1,427.9 2417.4,447.2 2420.9,448.3C2423.7,449.2 2425.1,434.9 2428.7,432.8C2430.7,431.7 2433.7,436.6 2435.0,440.2C2439.4,452.5 2438.0,463.3 2442.7,472.6C2443.9,474.8 2448.8,466.8 2449.8,469.1C2454.4,479.9 2453.4,504.0 2456.8,505.4C2459.7,506.5 2462.5,487.5 2465.6,475.4C2468.7,463.6 2469.5,444.6 2472.3,445.5C2475.7,446.5 2476.6,475.4 2481.1,480.0C2483.5,482.4 2485.3,467.8 2489.6,463.1C2490.8,461.7 2493.0,465.6 2494.9,464.9C2498.9,463.2 2500.2,459.7 2504.4,457.1C2507.6,455.1 2509.8,453.4 2513.2,453.6C2516.1,453.7 2518.6,455.2 2520.2,457.8C2523.1,462.8 2521.7,471.0 2524.4,472.6C2526.4,473.7 2530.0,462.5 2531.8,464.5C2536.3,469.2 2537.1,490.1 2540.3,489.2C2544.1,488.1 2544.5,470.4 2549.4,459.6C2550.5,457.2 2554.1,458.4 2555.4,456.1C2559.6,448.9 2559.1,439.3 2563.2,436.0C2565.3,434.3 2568.2,444.6 2570.9,443.7C2574.9,442.5 2576.1,435.7 2580.1,430.7C2584.0,425.8 2588.0,424.6 2590.6,419.1C2594.0,412.2 2593.8,407.5 2595.2,399.7C2597.7,386.1 2598.4,364.9 2600.5,365.6C2602.9,366.3 2603.2,388.4 2606.5,403.2C2607.8,409.1 2608.7,412.2 2611.8,417.3C2614.9,422.7 2619.4,431.5 2622.0,429.3C2626.7,425.3 2627.2,400.1 2630.1,401.8C2634.0,404.2 2634.4,433.8 2638.9,439.5C2641.0,442.2 2643.7,423.3 2646.6,423.0C2649.2,422.6 2650.5,439.4 2652.6,437.7C2656.2,435.0 2656.7,421.8 2661.1,412.0C2663.1,407.4 2666.0,401.2 2668.8,401.8C2672.3,402.6 2674.7,409.6 2676.9,415.6C2680.7,425.7 2680.3,431.8 2683.9,442.0C2685.5,446.3 2688.2,453.7 2689.9,451.8C2693.9,447.4 2694.5,436.3 2698.0,426.1C2701.0,417.6 2702.2,413.0 2706.2,405.1C2708.0,401.5 2709.9,397.4 2712.7,397.2C2715.5,397.0 2718.7,406.0 2720.3,404.2C2723.4,400.7 2722.7,392.0 2724.5,383.9C2726.1,377.1 2726.7,366.0 2728.7,367.0C2731.6,368.5 2733.6,387.9 2736.9,390.1C2739.0,391.5 2740.8,373.4 2742.3,376.1C2746.1,383.1 2747.4,413.9 2750.1,414.4C2752.7,414.8 2752.6,392.5 2755.5,378.3C2756.8,372.2 2757.6,366.0 2760.6,363.4C2762.1,362.1 2765.4,365.7 2766.8,368.5C2770.7,376.2 2771.9,380.9 2773.8,389.6C2777.2,405.1 2778.1,429.6 2780.0,429.0C2782.0,428.4 2782.4,403.7 2783.7,386.8C2785.0,369.9 2784.7,361.3 2786.5,344.5C2787.0,339.5 2787.2,333.0 2789.3,332.1C2791.1,331.3 2793.9,336.8 2796.3,340.3C2800.1,345.7 2801.0,349.1 2804.8,354.4C2806.6,356.9 2810.0,356.9 2810.4,360.0C2813.1,381.2 2811.6,393.0 2812.4,414.9C2813.6,449.4 2814.5,466.6 2815.3,501.0C2816.9,560.8 2817.2,650.6 2818.4,650.6C2819.6,650.6 2819.9,560.8 2821.1,501.0C2822.0,461.0 2822.3,440.9 2823.7,400.8C2824.5,376.6 2824.0,346.3 2826.8,340.3C2828.4,336.6 2831.8,376.6 2834.6,376.6C2837.5,376.6 2837.1,347.3 2841.1,340.3C2842.7,337.6 2845.6,352.7 2848.5,352.4C2851.6,352.1 2853.4,338.3 2856.3,338.9C2859.9,339.6 2861.2,354.4 2864.8,355.8C2867.3,356.7 2867.9,346.7 2871.5,344.5C2873.8,343.1 2876.5,345.4 2879.4,346.8C2882.5,348.2 2885.4,348.5 2886.5,351.5C2889.9,361.2 2889.2,367.6 2890.7,378.3C2892.2,388.7 2892.9,407.1 2894.1,404.2C2896.1,399.2 2896.6,376.8 2898.6,358.6C2900.0,346.2 2899.4,338.5 2902.5,327.6C2903.0,325.8 2905.9,328.1 2907.6,327.0C2911.4,324.7 2913.3,322.8 2916.1,319.2C2919.9,314.0 2920.8,310.7 2923.9,305.1" fill="none" stroke="#92aff8" stroke-width="1.85" stroke-linejoin="round"/>
<rect x="156.0" y="778.0" width="2771.0" height="2" fill="#a9a9ab"/>
<rect x="1261.5" y="149.5" width="81" height="25" fill="#dee6fb" stroke="#9bb4f8" stroke-width="1"/>
<text x="1354.30" y="170" font-size="24" fill="#666" style="letter-spacing:0.175px">Payback</text>
<text x="1454.00" y="170" font-size="24" fill="#666" style="letter-spacing:-0.033px">Time</text>
<text x="1513.10" y="170" font-size="24" fill="#666" style="letter-spacing:0.000px">-</text>
<text x="1528.40" y="170" font-size="24" fill="#666" style="letter-spacing:-0.200px">Radeon</text>
<text x="1619.00" y="170" font-size="24" fill="#666" style="letter-spacing:-2.000px">RX</text>
<text x="1656.90" y="170" font-size="24" fill="#666" style="letter-spacing:-0.133px">5700</text>
<text x="1716.60" y="170" font-size="24" fill="#666" style="letter-spacing:-0.600px">XT</text>
<text x="156.5" y="201.8" font-size="24" fill="#666" text-anchor="end">300</text>
<text x="156.5" y="299.1" font-size="24" fill="#666" text-anchor="end">250</text>
<text x="156.5" y="396.5" font-size="24" fill="#666" text-anchor="end">200</text>
<text x="156.5" y="493.8" font-size="24" fill="#666" text-anchor="end">150</text>
<text x="156.5" y="591.1" font-size="24" fill="#666" text-anchor="end">100</text>
<text x="156.5" y="688.5" font-size="24" fill="#666" text-anchor="end">50</text>
<text x="156.5" y="785.8" font-size="24" fill="#666" text-anchor="end">0</text>
<text transform="translate(175.6,797.7) rotate(-50)" x="0" y="8.5" font-size="24" fill="#666" text-anchor="end">2021<tspan dx="0.85">-</tspan><tspan dx="0.85">01</tspan><tspan dx="0.85">-</tspan><tspan dx="0.85">01</tspan></text>
<text transform="translate(356.3,797.7) rotate(-50)" x="0" y="8.5" font-size="24" fill="#666" text-anchor="end">2021<tspan dx="0.85">-</tspan><tspan dx="0.85">01</tspan><tspan dx="0.85">-</tspan><tspan dx="0.85">25</tspan></text>
<text transform="translate(537.1,797.7) rotate(-50)" x="0" y="8.5" font-size="24" fill="#666" text-anchor="end">2021<tspan dx="0.85">-</tspan><tspan dx="0.85">02</tspan><tspan dx="0.85">-</tspan><tspan dx="0.85">18</tspan></text>
<text transform="translate(717.8,797.7) rotate(-50)" x="0" y="8.5" font-size="24" fill="#666" text-anchor="end">2021<tspan dx="0.85">-</tspan><tspan dx="0.85">03</tspan><tspan dx="0.85">-</tspan><tspan dx="0.85">14</tspan></text>
<text transform="translate(898.6,797.7) rotate(-50)" x="0" y="8.5" font-size="24" fill="#666" text-anchor="end">2021<tspan dx="0.85">-</tspan><tspan dx="0.85">04</tspan><tspan dx="0.85">-</tspan><tspan dx="0.85">07</tspan></text>
<text transform="translate(1079.3,797.7) rotate(-50)" x="0" y="8.5" font-size="24" fill="#666" text-anchor="end">2021<tspan dx="0.85">-</tspan><tspan dx="0.85">05</tspan><tspan dx="0.85">-</tspan><tspan dx="0.85">01</tspan></text>
<text transform="translate(1260.1,797.7) rotate(-50)" x="0" y="8.5" font-size="24" fill="#666" text-anchor="end">2021<tspan dx="0.85">-</tspan><tspan dx="0.85">05</tspan><tspan dx="0.85">-</tspan><tspan dx="0.85">25</tspan></text>
<text transform="translate(1440.8,797.7) rotate(-50)" x="0" y="8.5" font-size="24" fill="#666" text-anchor="end">2021<tspan dx="0.85">-</tspan><tspan dx="0.85">06</tspan><tspan dx="0.85">-</tspan><tspan dx="0.85">18</tspan></text>
<text transform="translate(1621.5,797.7) rotate(-50)" x="0" y="8.5" font-size="24" fill="#666" text-anchor="end">2021<tspan dx="0.85">-</tspan><tspan dx="0.85">07</tspan><tspan dx="0.85">-</tspan><tspan dx="0.85">12</tspan></text>
<text transform="translate(1802.3,797.7) rotate(-50)" x="0" y="8.5" font-size="24" fill="#666" text-anchor="end">2021<tspan dx="0.85">-</tspan><tspan dx="0.85">08</tspan><tspan dx="0.85">-</tspan><tspan dx="0.85">05</tspan></text>
<text transform="translate(1983.0,797.7) rotate(-50)" x="0" y="8.5" font-size="24" fill="#666" text-anchor="end">2021<tspan dx="0.85">-</tspan><tspan dx="0.85">08</tspan><tspan dx="0.85">-</tspan><tspan dx="0.85">29</tspan></text>
<text transform="translate(2163.8,797.7) rotate(-50)" x="0" y="8.5" font-size="24" fill="#666" text-anchor="end">2021<tspan dx="0.85">-</tspan><tspan dx="0.85">09</tspan><tspan dx="0.85">-</tspan><tspan dx="0.85">22</tspan></text>
<text transform="translate(2344.5,797.7) rotate(-50)" x="0" y="8.5" font-size="24" fill="#666" text-anchor="end">2021<tspan dx="0.85">-</tspan><tspan dx="0.85">10</tspan><tspan dx="0.85">-</tspan><tspan dx="0.85">16</tspan></text>
<text transform="translate(2525.3,797.7) rotate(-50)" x="0" y="8.5" font-size="24" fill="#666" text-anchor="end">2021<tspan dx="0.85">-</tspan><tspan dx="0.85">11</tspan><tspan dx="0.85">-</tspan><tspan dx="0.85">09</tspan></text>
<text transform="translate(2706.0,797.7) rotate(-50)" x="0" y="8.5" font-size="24" fill="#666" text-anchor="end">2021<tspan dx="0.85">-</tspan><tspan dx="0.85">12</tspan><tspan dx="0.85">-</tspan><tspan dx="0.85">03</tspan></text>
<text transform="translate(2924.4,797.7) rotate(-50)" x="0" y="8.5" font-size="24" fill="#666" text-anchor="end">2022<tspan dx="0.85">-</tspan><tspan dx="0.85">01</tspan><tspan dx="0.85">-</tspan><tspan dx="0.85">01</tspan></text>
</svg>
</body></html>
